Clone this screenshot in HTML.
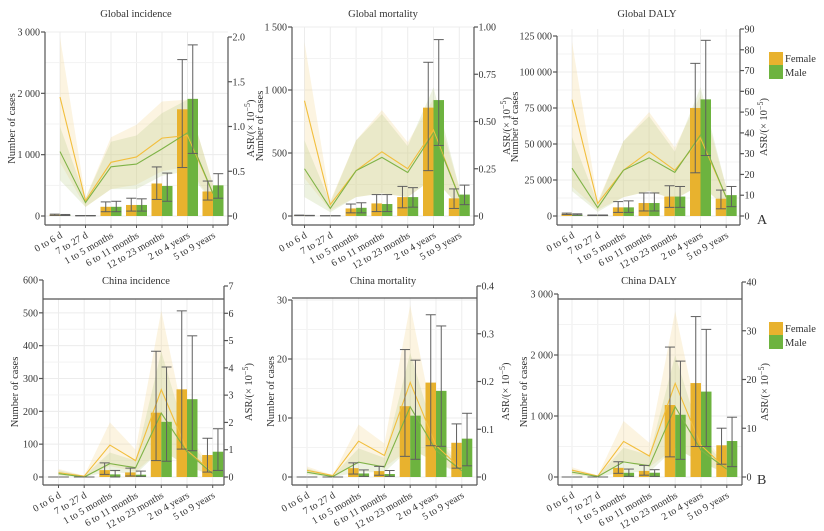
<!DOCTYPE html>
<html><head><meta charset="utf-8"><style>
html,body{margin:0;padding:0;background:#fff}
svg{display:block}
text{font-family:"Liberation Serif",serif;fill:#333}
</style></head><body>
<svg id="chart" width="824" height="531" viewBox="0 0 824 531" xmlns="http://www.w3.org/2000/svg"></svg>
<script>
const categories = ["0 to 6 d","7 to 27 d","1 to 5 months","6 to 11 months","12 to 23 months","2 to 4 years","5 to 9 years"];

// Global incidence
const giBarF = [20,5,150,180,530,1740,400];
const giBarM = [15,5,150,180,490,1910,500];
const giErrF = [[10,30],[2,8],[70,230],[80,290],[270,800],[790,2550],[260,570]];
const giErrM = [[8,25],[2,8],[70,240],[80,280],[240,700],[1020,2790],[290,690]];
const giAsrF = [1.33,0.17,0.6,0.66,0.87,0.9,0.25];
const giAsrM = [0.72,0.15,0.55,0.58,0.75,0.93,0.25];
const giBandF = [[0.6,2.0],[0.1,0.2],[0.3,0.88],[0.35,1.02],[0.5,1.28],[0.55,1.3],[0.15,0.35]];
const giBandM = [[0.4,1.0],[0.1,0.2],[0.3,0.83],[0.3,0.9],[0.45,1.15],[0.5,1.3],[0.15,0.35]];

// Global mortality
const gmBarF = [5,2,60,100,150,860,140];
const gmBarM = [3,2,65,95,150,920,170];
const gmErrF = [[3,7],[1,3],[25,95],[35,170],[65,235],[360,1220],[60,215]];
const gmErrM = [[2,5],[1,3],[25,105],[35,170],[70,225],[560,1400],[90,245]];
const gmAsrF = [0.61,0.06,0.24,0.34,0.25,0.455,0.1];
const gmAsrM = [0.25,0.04,0.24,0.31,0.23,0.44,0.1];
const gmBandF = [[0.2,0.92],[0.03,0.08],[0.1,0.4],[0.12,0.56],[0.1,0.39],[0.2,0.62],[0.05,0.15]];
const gmBandM = [[0.1,0.4],[0.02,0.07],[0.1,0.4],[0.12,0.54],[0.1,0.37],[0.2,0.68],[0.05,0.15]];

// Global DALY
const gdBarF = [1500,500,6000,9000,13500,75000,12000];
const gdBarM = [1000,500,6000,9000,13500,81000,14500];
const gdErrF = [[1000,2000],[300,700],[2500,10000],[3500,16000],[6000,21000],[30000,106000],[5000,18000]];
const gdErrM = [[700,1500],[300,700],[2500,10500],[3500,16000],[6000,20500],[42000,122000],[6500,20500]];
const gdAsrF = [56,6,22,31,22,37.5,9];
const gdAsrM = [23,4,22,28,21,39,9];
const gdBandF = [[14,84],[3,7],[9,36],[12,50],[8,33],[15,58],[4,14]];
const gdBandM = [[12,38],[2,6],[9,36],[12,48],[8,31],[15,62],[4,14]];

// China incidence
const ciBarF = [0,0,21,14,196,267,67];
const ciBarM = [0,0,8,7,168,237,77];
const ciErrF = [[0,0],[0,0],[8,43],[3,27],[50,383],[85,506],[15,118]];
const ciErrM = [[0,0],[0,0],[0,20],[2,18],[48,335],[80,430],[20,147]];
const ciAsrF = [0.16,0.03,1.17,0.6,3.2,0.98,0.16];
const ciAsrM = [0.12,0,0.49,0.34,2.34,0.92,0.12];
const ciBandF = [[0.08,0.3],[0.01,0.05],[0.4,2.0],[0.2,1.0],[1.0,6.1],[0.4,1.6],[0.05,0.3]];
const ciBandM = [[0.05,0.25],[0,0.04],[0.2,0.9],[0.1,0.6],[1.0,4.6],[0.4,1.4],[0.05,0.25]];

// China mortality
const cmBarF = [0,0,1.5,1.0,12,16,5.8];
const cmBarM = [0,0,0.6,0.5,10.4,14.6,6.5];
const cmErrF = [[0,0],[0,0],[0.5,2.4],[0.3,1.8],[3.5,21.6],[5.3,27.5],[1.5,9]];
const cmErrM = [[0,0],[0,0],[0.1,1.2],[0.1,1.1],[3,19.8],[5.2,25.6],[1.9,10.8]];
const cmAsrF = [0.014,0.003,0.075,0.045,0.198,0.066,0.016];
const cmAsrM = [0.01,0.001,0.031,0.021,0.147,0.056,0.013];
const cmBandF = [[0.008,0.022],[0.001,0.004],[0.03,0.11],[0.02,0.07],[0.06,0.36],[0.03,0.09],[0.008,0.025]];
const cmBandM = [[0.005,0.018],[0,0.003],[0.01,0.06],[0.01,0.04],[0.06,0.26],[0.03,0.08],[0.005,0.02]];

// China DALY
const cdBarF = [0,0,150,100,1180,1540,520];
const cdBarM = [0,0,70,70,1020,1400,590];
const cdErrF = [[0,0],[0,0],[60,250],[30,190],[330,2130],[500,2630],[210,800]];
const cdErrM = [[0,0],[0,0],[10,130],[10,120],[290,1900],[500,2420],[170,980]];
const cdAsrF = [1.4,0.2,7.3,4.3,19.2,6.5,1.6];
const cdAsrM = [1.0,0.1,3.1,2.3,14.4,5.5,1.6];
const cdBandF = [[0.6,2.0],[0.1,0.3],[3,11.5],[2,7],[6,34],[3,9],[0.8,2.5]];
const cdBandM = [[0.4,1.6],[0,0.25],[1,6],[1,4.5],[6,25],[3,8],[0.6,2.2]];

// tick labels
const giLeftTicks = [0,1000,2000,3000], giLeftLabels = ["0","1 000","2 000","3 000"];
const giRightTicks = [0,0.5,1,1.5,2], giRightLabels = ["0","0.5","1.0","1.5","2.0"];
const gmLeftTicks = [0,500,1000,1500], gmLeftLabels = ["0","500","1 000","1 500"];
const gmRightTicks = [0,0.25,0.5,0.75,1], gmRightLabels = ["0","0.25","0.50","0.75","1.00"];
const gdLeftTicks = [0,25000,50000,75000,100000,125000], gdLeftLabels = ["0","25 000","50 000","75 000","100 000","125 000"];
const gdRightTicks = [0,10,20,30,40,50,60,70,80,90], gdRightLabels = ["0","10","20","30","40","50","60","70","80","90"];
const ciLeftTicks = [0,100,200,300,400,500,600], ciLeftLabels = ["0","100","200","300","400","500","600"];
const ciRightTicks = [0,1,2,3,4,5,6,7], ciRightLabels = ["0","1","2","3","4","5","6","7"];
const cmLeftTicks = [0,10,20,30], cmLeftLabels = ["0","10","20","30"];
const cmRightTicks = [0,0.1,0.2,0.3,0.4], cmRightLabels = ["0","0.1","0.2","0.3","0.4"];
const cdLeftTicks = [0,1000,2000,3000], cdLeftLabels = ["0","1 000","2 000","3 000"];
const cdRightTicks = [0,10,20,30,40], cdRightLabels = ["0","10","20","30","40"];

const NS = "http://www.w3.org/2000/svg";
const svg = document.getElementById("chart");
function mk(tag, attrs, parent){ const e=document.createElementNS(NS,tag); for(const k in attrs) e.setAttribute(k,attrs[k]); (parent||svg).appendChild(e); return e; }

const panels = [
 {key:"global-incidence",title:"Global incidence",tx:136,ty:17,xL:45,xR:228,y0:216,axY:225,lMax:3000,lTop:32,rMax:2,rTop:37,c0:60,step:25.5,topLine:null,ltx:15,rtx:254,
  barF:giBarF,barM:giBarM,errF:giErrF,errM:giErrM,asrF:giAsrF,asrM:giAsrM,bandF:giBandF,bandM:giBandM,lt:giLeftTicks,ll:giLeftLabels,rt:giRightTicks,rl:giRightLabels},
 {key:"global-mortality",title:"Global mortality",tx:383,ty:17,xL:292,xR:474,y0:216,axY:225,lMax:1500,lTop:27,rMax:1,rTop:27,c0:304.5,step:25.8,topLine:null,ltx:263,rtx:510,
  barF:gmBarF,barM:gmBarM,errF:gmErrF,errM:gmErrM,asrF:gmAsrF,asrM:gmAsrM,bandF:gmBandF,bandM:gmBandM,lt:gmLeftTicks,ll:gmLeftLabels,rt:gmRightTicks,rl:gmRightLabels},
 {key:"global-daly",title:"Global DALY",tx:647,ty:17,xL:557,xR:740,y0:216,axY:225,lMax:125000,lTop:36,rMax:90,rTop:29,c0:572,step:25.7,topLine:null,ltx:518,rtx:767,
  barF:gdBarF,barM:gdBarM,errF:gdErrF,errM:gdErrM,asrF:gdAsrF,asrM:gdAsrM,bandF:gdBandF,bandM:gdBandM,lt:gdLeftTicks,ll:gdLeftLabels,rt:gdRightTicks,rl:gdRightLabels,legend:52,letter:"A"},
 {key:"china-incidence",title:"China incidence",tx:136,ty:284,xL:43,xR:224,y0:477,axY:485,lMax:600,lTop:280,rMax:7,rTop:286,c0:58.5,step:25.7,topLine:299,ltx:18,rtx:252,
  barF:ciBarF,barM:ciBarM,errF:ciErrF,errM:ciErrM,asrF:ciAsrF,asrM:ciAsrM,bandF:ciBandF,bandM:ciBandM,lt:ciLeftTicks,ll:ciLeftLabels,rt:ciRightTicks,rl:ciRightLabels},
 {key:"china-mortality",title:"China mortality",tx:383,ty:284,xL:292,xR:477,y0:477,axY:485,lMax:30,lTop:300,rMax:0.4,rTop:286,c0:307,step:25.8,topLine:298,ltx:274,rtx:509,
  barF:cmBarF,barM:cmBarM,errF:cmErrF,errM:cmErrM,asrF:cmAsrF,asrM:cmAsrM,bandF:cmBandF,bandM:cmBandM,lt:cmLeftTicks,ll:cmLeftLabels,rt:cmRightTicks,rl:cmRightLabels},
 {key:"china-daly",title:"China DALY",tx:649,ty:284,xL:558,xR:742,y0:477,axY:485,lMax:3000,lTop:294,rMax:40,rTop:282,c0:572,step:25.8,topLine:299,ltx:527,rtx:768,
  barF:cdBarF,barM:cdBarM,errF:cdErrF,errM:cdErrM,asrF:cdAsrF,asrM:cdAsrM,bandF:cdBandF,bandM:cdBandM,lt:cdLeftTicks,ll:cdLeftLabels,rt:cdRightTicks,rl:cdRightLabels,legend:322,letter:"B"}
];

panels.forEach(p=>{
  const g = mk("g",{});
  
  
  const sL = v => p.y0 - v/p.lMax*(p.y0-p.lTop);
  const sR = v => p.y0 - v/p.rMax*(p.y0-p.rTop);
  const cx = i => p.c0 + i*p.step;
  const top = p.topLine ? p.topLine : Math.min(p.lTop,p.rTop);
  const grid = mk("g",{stroke:"#ececec","stroke-width":1},g);
  
  
  categories.forEach((c,i)=>mk("line",{x1:cx(i),x2:cx(i),y1:top,y2:p.axY},grid));
  for(let k=0;k<p.lt.length;k++){
    const y=sL(p.lt[k]); if(y>=top) mk("line",{x1:p.xL,x2:p.xR,y1:y,y2:y},grid);
    if(k<p.lt.length-1){const ym=sL((p.lt[k]+p.lt[k+1])/2); if(ym>=top) mk("line",{x1:p.xL,x2:p.xR,y1:ym,y2:ym,stroke:"#f3f3f3"},grid);}
  }
  [[p.bandF,"#f5d48a",0.26,"female"],[p.bandM,"#b5c97f",0.24,"male"]].forEach(([b,col,op,nm])=>{
    let pts = b.map((v,i)=>cx(i)+","+sR(v[1]));
    pts = pts.concat(b.map((v,i)=>cx(i)+","+sR(v[0])).reverse());
    const poly = mk("polygon",{points:pts.join(" "),fill:col,"fill-opacity":op},g);
    
    
  });
  const bw=10.5;
  categories.forEach((c,i)=>{
    const rf = mk("rect",{x:cx(i)-bw,y:sL(p.barF[i]),width:bw,height:p.y0-sL(p.barF[i]),fill:"#E8B22E"},g);
    
    
    const rm = mk("rect",{x:cx(i),y:sL(p.barM[i]),width:bw,height:p.y0-sL(p.barM[i]),fill:"#6DB33F"},g);
    
    
  });
  [[p.asrF,"#F2BE3C","female"],[p.asrM,"#7FB347","male"]].forEach(([a,col,nm])=>{
    const pl = mk("polyline",{points:a.map((v,i)=>cx(i)+","+sR(v)).join(" "),fill:"none",stroke:col,"stroke-width":1.1},g);
    
    
  });
  categories.forEach((c,i)=>{
    [[p.errF[i],cx(i)-bw/2],[p.errM[i],cx(i)+bw/2]].forEach(([e,x])=>{
      const eg = mk("g",{stroke:"#5f5f5f","stroke-width":1},g);
      
      
      mk("line",{x1:x,x2:x,y1:sL(e[0]),y2:sL(e[1])},eg);
      mk("line",{x1:x-5,x2:x+5,y1:sL(e[0]),y2:sL(e[0])},eg);
      mk("line",{x1:x-5,x2:x+5,y1:sL(e[1]),y2:sL(e[1])},eg);
    });
  });
  const ax = mk("g",{stroke:"#555","stroke-width":1.2,fill:"none"},g);
  
  
  mk("line",{x1:p.xL,x2:p.xL,y1:p.lTop,y2:p.axY},ax);
  mk("line",{x1:p.xR,x2:p.xR,y1:p.rTop,y2:p.axY},ax);
  mk("line",{x1:p.xL,x2:p.xR,y1:p.axY,y2:p.axY},ax);
  if(p.topLine) mk("line",{x1:p.xL,x2:p.xR,y1:p.topLine,y2:p.topLine},ax);
  p.lt.forEach((v,k)=>{
    mk("line",{x1:p.xL-4,x2:p.xL,y1:sL(v),y2:sL(v)},ax);
    const t = mk("text",{x:p.xL-5,y:sL(v)+3.5,"text-anchor":"end","font-size":10},g); t.textContent=p.ll[k];
    
    
  });
  p.rt.forEach((v,k)=>{
    mk("line",{x1:p.xR,x2:p.xR+4,y1:sR(v),y2:sR(v)},ax);
    const t = mk("text",{x:p.xR+4.5,y:sR(v)+3.5,"font-size":10},g); t.textContent=p.rl[k];
    
    
  });
  categories.forEach((c,i)=>{
    mk("line",{x1:cx(i),x2:cx(i),y1:p.axY,y2:p.axY+3,stroke:"#555"},g);
    const t = mk("text",{x:cx(i)+3,y:p.axY+12,"text-anchor":"end","font-size":10,transform:"rotate(-30 "+(cx(i)+3)+" "+(p.axY+12)+")"},g);
    t.textContent=c;
    
    
  });
  const tt = mk("text",{x:p.tx,y:p.ty,"text-anchor":"middle","font-size":10.5},g); tt.textContent=p.title;
  
  
  const cy=(p.axY+top)/2;
  const lt = mk("text",{x:p.ltx,y:cy,"text-anchor":"middle","font-size":10.5,transform:"rotate(-90 "+p.ltx+" "+cy+")"},g); lt.textContent="Number of cases";
  
  
  const rt = mk("text",{x:p.rtx,y:cy,"text-anchor":"middle","font-size":10.5,transform:"rotate(-90 "+p.rtx+" "+cy+")"},g);
  rt.textContent="ASR/(× 10";
  const sup = mk("tspan",{dy:-4,"font-size":8},rt); sup.textContent="−5";
  const cl = mk("tspan",{dy:4},rt); cl.textContent=")";
  
  
  if(p.legend){
    const lg = mk("g",{},g);
    
    
    const b1=mk("rect",{x:769,y:p.legend,width:14,height:13,fill:"#E8B22E"},lg);
    
    
    const t1=mk("text",{x:785,y:p.legend+10,"font-size":10.5},lg); t1.textContent="Female";
    
    
    const b2=mk("rect",{x:769,y:p.legend+13,width:14,height:14,fill:"#6DB33F"},lg);
    
    
    const t2=mk("text",{x:785,y:p.legend+24,"font-size":10.5},lg); t2.textContent="Male";
    
    
    const L=mk("text",{x:757,y:p.axY-1,"font-size":14},g); L.textContent=p.letter;
    
    
  }
});
</script>
</body></html>
